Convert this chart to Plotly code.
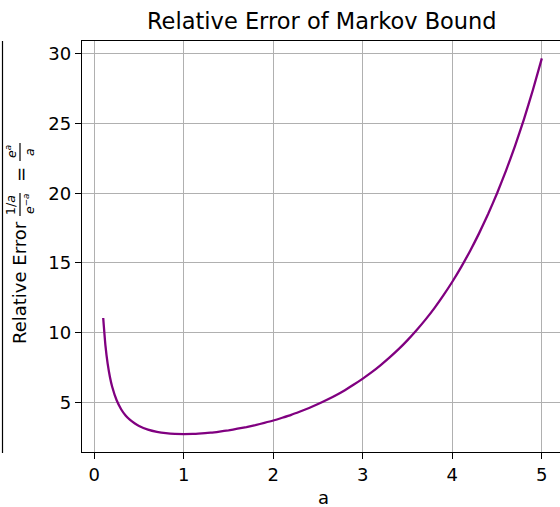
import plotly.graph_objects as go

# Relative error of the Markov bound, (1/a) / e^{-a} = e^a / a
a_values = [0.1, 0.125, 0.15, 0.175, 0.2, 0.25, 0.3, 0.35, 0.4, 0.45, 0.5,
            0.6, 0.7, 0.8, 0.9, 1.0, 1.1, 1.2, 1.3, 1.4, 1.5, 1.6, 1.7, 1.8,
            1.9, 2.0, 2.1, 2.2, 2.3, 2.4, 2.5, 2.6, 2.7, 2.8, 2.9, 3.0, 3.1,
            3.2, 3.3, 3.4, 3.5, 3.6, 3.7, 3.8, 3.9, 4.0, 4.1, 4.2, 4.3, 4.4,
            4.5, 4.6, 4.7, 4.8, 4.9, 5.0]
rel_error = [11.05, 9.06, 7.75, 6.81, 6.11, 5.14, 4.50, 4.05, 3.73, 3.49, 3.30,
             3.04, 2.88, 2.78, 2.73, 2.72, 2.73, 2.77, 2.82, 2.90, 2.99, 3.10,
             3.22, 3.36, 3.52, 3.69, 3.89, 4.10, 4.34, 4.59, 4.87, 5.18, 5.51,
             5.87, 6.27, 6.70, 7.16, 7.67, 8.22, 8.81, 9.46, 10.17, 10.93,
             11.76, 12.67, 13.65, 14.72, 15.88, 17.14, 18.51, 20.00, 21.63,
             23.39, 25.31, 27.41, 29.68]

x_ticks = [0, 1, 2, 3, 4, 5]
y_ticks = [5, 10, 15, 20, 25, 30]

W, H = 560, 507
L, R, T, B = 82, 0, 41, 55
PW, PH = W - L - R, H - T - B
FONT = "DejaVu Sans"


def px(x):
    return (x - L) / PW


def py(y):
    return (H - B - y) / PH


fig = go.Figure()
fig.add_trace(go.Scatter(
    x=a_values, y=rel_error, mode="lines",
    line=dict(color="#800080", width=2.3, shape="spline", smoothing=0.5),
    hoverinfo="skip", showlegend=False,
))

axis_common = dict(
    showline=True, linecolor="black", linewidth=1.3,
    ticks="outside", ticklen=6, tickwidth=1.3, tickcolor="black",
    showgrid=True, gridcolor="#b0b0b0", gridwidth=1.3,
    zeroline=False,
    tickfont=dict(family=FONT, size=18, color="black"),
)

fig.update_xaxes(range=[-0.137, 5.203], tickvals=x_ticks, mirror=True,
                 **axis_common)
fig.update_yaxes(range=[1.43, 30.93], tickvals=y_ticks, mirror=False,
                 **axis_common)

annotations = [
    # title
    dict(text="Relative Error of Markov Bound", x=px(322), y=py(21),
         font=dict(size=22.5)),
    # x-axis label
    dict(text="a", x=px(323), y=py(497), font=dict(size=18)),
    # y-axis label pieces (rotated)
    dict(text="Relative Error", x=px(19), y=py(282), textangle=-90,
         font=dict(size=18)),
    dict(text="1/<i>a</i>", x=px(11), y=py(205), textangle=-90,
         font=dict(size=12.5)),
    dict(text="<i>e</i><sup>−<i>a</i></sup>", x=px(29), y=py(204),
         textangle=-90, font=dict(size=12.5)),
    dict(text="=", x=px(20), y=py(175), textangle=-90, font=dict(size=18)),
    dict(text="<i>e</i><sup><i>a</i></sup>", x=px(11), y=py(152),
         textangle=-90, font=dict(size=12.5)),
    dict(text="<i>a</i>", x=px(29), y=py(152), textangle=-90,
         font=dict(size=12.5)),
]
for ann in annotations:
    ann.update(xref="paper", yref="paper", showarrow=False,
               xanchor="center", yanchor="middle")
    ann["font"].update(family=FONT, color="black")
    fig.add_annotation(**ann)

shapes = [
    # fraction bars of the y-axis label
    dict(x0=px(20), x1=px(20), y0=py(193), y1=py(216)),
    dict(x0=px(20), x1=px(20), y0=py(143), y1=py(161)),
    # spine of the neighbouring panel at the left edge
    dict(x0=px(2.5), x1=px(2.5), y0=py(41), y1=py(453)),
]
for s in shapes:
    fig.add_shape(type="line", xref="paper", yref="paper",
                  line=dict(color="black", width=1.2), **s)

fig.update_layout(
    width=W, height=H,
    margin=dict(l=L, r=R, t=T, b=B, pad=0),
    plot_bgcolor="white", paper_bgcolor="white",
    font=dict(family=FONT, color="black"),
)

fig.write_html("out.html")
